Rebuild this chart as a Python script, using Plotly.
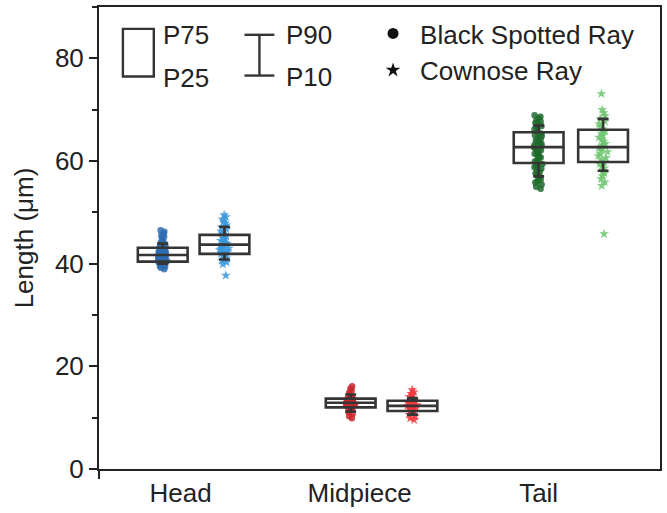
import plotly.graph_objects as go

# ---------------- data ----------------
categories = ["Head", "Midpiece", "Tail"]
cat_pos = [1, 2, 3]
species = ["Black Spotted Ray", "Cownose Ray"]

# box positions on the numeric x axis
bsr_pos = [0.9, 1.95, 3.0]
cr_pos = [1.245, 2.295, 3.36]

# percentile statistics (P10, P25, P50, P75, P90)
bsr_p10 = [40.0, 11.2, 57.0]
bsr_p25 = [40.4, 12.0, 59.6]
bsr_p50 = [41.7, 12.9, 62.7]
bsr_p75 = [43.1, 13.7, 65.6]
bsr_p90 = [43.9, 14.5, 66.9]
cr_p10 = [40.8, 10.6, 58.1]
cr_p25 = [41.9, 11.3, 59.8]
cr_p50 = [43.7, 12.3, 62.7]
cr_p75 = [45.6, 13.3, 66.1]
cr_p90 = [47.2, 13.8, 68.2]

head_bsr = [38.9, 39.2, 39.4, 39.5, 39.7, 39.8, 39.9, 40.0, 40.0, 40.1, 40.2, 40.2,
            40.3, 40.4, 40.4, 40.5, 40.5, 40.6, 40.7, 40.7, 40.8, 40.9, 40.9, 41.0,
            41.0, 41.1, 41.2, 41.2, 41.3, 41.4, 41.4, 41.5, 41.6, 41.6, 41.7, 41.7,
            41.8, 41.9, 41.9, 42.0, 42.1, 42.1, 42.2, 42.3, 42.4, 42.5, 42.6, 42.7,
            42.8, 42.9, 43.0, 43.1, 43.2, 43.3, 43.5, 43.7, 43.9, 44.1, 44.4, 44.7,
            45.0, 45.3, 45.6, 45.9, 46.2, 46.5]
head_cr = [37.7, 39.9, 40.3, 40.6, 40.9, 41.1, 41.4, 41.6, 41.8, 42.0, 42.1, 42.3,
           42.5, 42.7, 42.9, 43.0, 43.2, 43.4, 43.6, 43.7, 43.9, 44.1, 44.3, 44.5,
           44.7, 45.0, 45.3, 45.6, 45.9, 46.3, 46.7, 47.1, 47.5, 47.9, 48.3, 48.7,
           49.1, 49.5]
mid_bsr = [9.9, 10.3, 10.7, 11.1, 11.4, 11.6, 11.8, 11.9, 12.0, 12.1, 12.2, 12.3,
           12.3, 12.4, 12.5, 12.6, 12.6, 12.7, 12.8, 12.8, 12.9, 13.0, 13.0, 13.1,
           13.2, 13.3, 13.3, 13.4, 13.5, 13.6, 13.7, 13.8, 14.0, 14.2, 14.5, 14.9,
           15.3, 15.7, 16.1]
mid_cr = [9.6, 9.9, 10.3, 10.6, 10.9, 11.1, 11.3, 11.5, 11.7, 11.9, 12.0, 12.1,
          12.2, 12.3, 12.4, 12.5, 12.6, 12.8, 13.0, 13.2, 13.4, 13.6, 13.8, 14.1,
          14.4, 14.7, 15.0, 15.4]
tail_bsr = [54.6, 55.0, 55.4, 55.8, 56.1, 56.4, 56.7, 57.0, 57.3, 57.6, 57.9, 58.2,
            58.5, 58.8, 59.1, 59.4, 59.6, 59.9, 60.2, 60.4, 60.7, 60.9, 61.2, 61.4,
            61.7, 61.9, 62.1, 62.3, 62.5, 62.7, 62.9, 63.1, 63.3, 63.5, 63.8, 64.0,
            64.3, 64.5, 64.8, 65.0, 65.3, 65.6, 65.9, 66.2, 66.5, 66.8, 67.1, 67.4,
            67.7, 68.0, 68.3, 68.6, 68.9]
tail_cr = [45.8, 55.2, 55.9, 56.5, 57.1, 57.6, 58.1, 58.6, 59.0, 59.4, 59.8, 60.2,
           60.6, 61.0, 61.4, 61.8, 62.2, 62.5, 62.8, 63.1, 63.4, 63.8, 64.2, 64.6,
           65.0, 65.4, 65.8, 66.2, 66.7, 67.2, 67.7, 68.2, 68.8, 69.4, 70.0, 73.1]

bsr_points = [head_bsr, mid_bsr, tail_bsr]
cr_points = [head_cr, mid_cr, tail_cr]
bsr_colors = ["#2f6db3", "#c8282d", "#1f6b2b"]
cr_colors = ["#3b97dc", "#f2363d", "#6cc46e"]

y_ticks = [0, 20, 40, 60, 80]

# ---------------- layout helpers ----------------
W, H = 667, 513
L, R, T, B = 99, 662, 7, 472
BOX_W = 0.278
FONT = "Liberation Sans, Arial, sans-serif"
EDGE = "#353535"


def px(xp):
    return (xp - L) / (R - L)


def py(yp):
    return (B - yp) / (B - T)


fig = go.Figure()

# jittered points
for i in range(3):
    for pos, vals, col, sym, size, jit in (
        (bsr_pos[i], bsr_points[i], bsr_colors[i], "circle", 6.5, 0.2),
        (cr_pos[i], cr_points[i], cr_colors[i], "star", 7.5, 0.2),
    ):
        fig.add_trace(go.Box(
            x=[pos] * len(vals), y=vals, boxpoints="all", jitter=jit, pointpos=0,
            width=BOX_W, fillcolor="rgba(0,0,0,0)",
            line=dict(width=0, color="rgba(0,0,0,0)"),
            marker=dict(symbol=sym, size=size, color=col, opacity=0.85,
                        line=dict(width=0)),
            showlegend=False, hoverinfo="y",
        ))

# percentile boxes (P10-P25-P50-P75-P90)
for pos, p10, p25, p50, p75, p90 in (
    (bsr_pos, bsr_p10, bsr_p25, bsr_p50, bsr_p75, bsr_p90),
    (cr_pos, cr_p10, cr_p25, cr_p50, cr_p75, cr_p90),
):
    fig.add_trace(go.Box(
        x=pos, q1=p25, median=p50, q3=p75, lowerfence=p10, upperfence=p90,
        width=BOX_W, whiskerwidth=0.22, fillcolor="rgba(0,0,0,0)",
        line=dict(color=EDGE, width=2.6), boxpoints=False, showlegend=False,
    ))

# legend entries for species
fig.add_trace(go.Scatter(x=[None], y=[None], mode="markers", name=species[0],
                         legendgroup="a",
                         marker=dict(symbol="circle", size=11, color="#111111")))
fig.add_trace(go.Scatter(x=[None], y=[None], mode="markers", name=species[1],
                         legendgroup="b",
                         marker=dict(symbol="star", size=11, color="#111111")))

# box / whisker key
shapes = [
    dict(type="rect", xref="paper", yref="paper", x0=px(123), x1=px(154),
         y0=py(77), y1=py(29), line=dict(color=EDGE, width=2.4)),
    dict(type="line", xref="paper", yref="paper", x0=px(245), x1=px(275),
         y0=py(35), y1=py(35), line=dict(color=EDGE, width=2.4)),
    dict(type="line", xref="paper", yref="paper", x0=px(245), x1=px(275),
         y0=py(76), y1=py(76), line=dict(color=EDGE, width=2.4)),
    dict(type="line", xref="paper", yref="paper", x0=px(260), x1=px(260),
         y0=py(76), y1=py(35), line=dict(color=EDGE, width=2.4)),
    dict(type="line", xref="paper", yref="paper", x0=0, x1=0,
         y0=py(472), y1=py(482), line=dict(color="#222222", width=2)),
]
annotations = []
for txt, xl, yc in (("P75", 161, 35), ("P25", 161, 78), ("P90", 285, 35), ("P10", 285, 77)):
    annotations.append(dict(text=txt, xref="paper", yref="paper", x=px(xl), y=py(yc),
                            xanchor="left", yanchor="middle", showarrow=False,
                            font=dict(size=26, color="#222222", family=FONT)))

fig.update_layout(
    width=W, height=H,
    margin=dict(l=L, r=W - R, t=T, b=H - B),
    paper_bgcolor="white", plot_bgcolor="white",
    font=dict(family=FONT, size=26, color="#222222"),
    shapes=shapes, annotations=annotations,
    boxmode="overlay",
    legend=dict(x=px(367), y=py(10), xanchor="left", yanchor="top",
                bgcolor="rgba(0,0,0,0)", font=dict(size=26, family=FONT, color="#222222"),
                tracegroupgap=0, traceorder="grouped", itemwidth=44),
    xaxis=dict(range=[0.544, 3.678], tickvals=cat_pos, ticktext=categories,
               showline=True, mirror=True, linecolor="#222222", linewidth=2,
               ticks="", showgrid=False, zeroline=False,
               tickfont=dict(size=26, family=FONT, color="#222222")),
    yaxis=dict(range=[0, 90], tickvals=y_ticks, showline=True, mirror=True,
               linecolor="#222222", linewidth=2, ticks="outside", ticklen=8,
               tickwidth=2, tickcolor="#222222", showgrid=False, zeroline=False,
               minor=dict(ticks="outside", ticklen=5, tickwidth=2, dtick=10,
                          tickcolor="#222222"),
               title=dict(text="Length (μm)", standoff=14,
                          font=dict(size=26, family=FONT, color="#222222")),
               tickfont=dict(size=26, family=FONT, color="#222222")),
)

fig.write_html("out.html")
